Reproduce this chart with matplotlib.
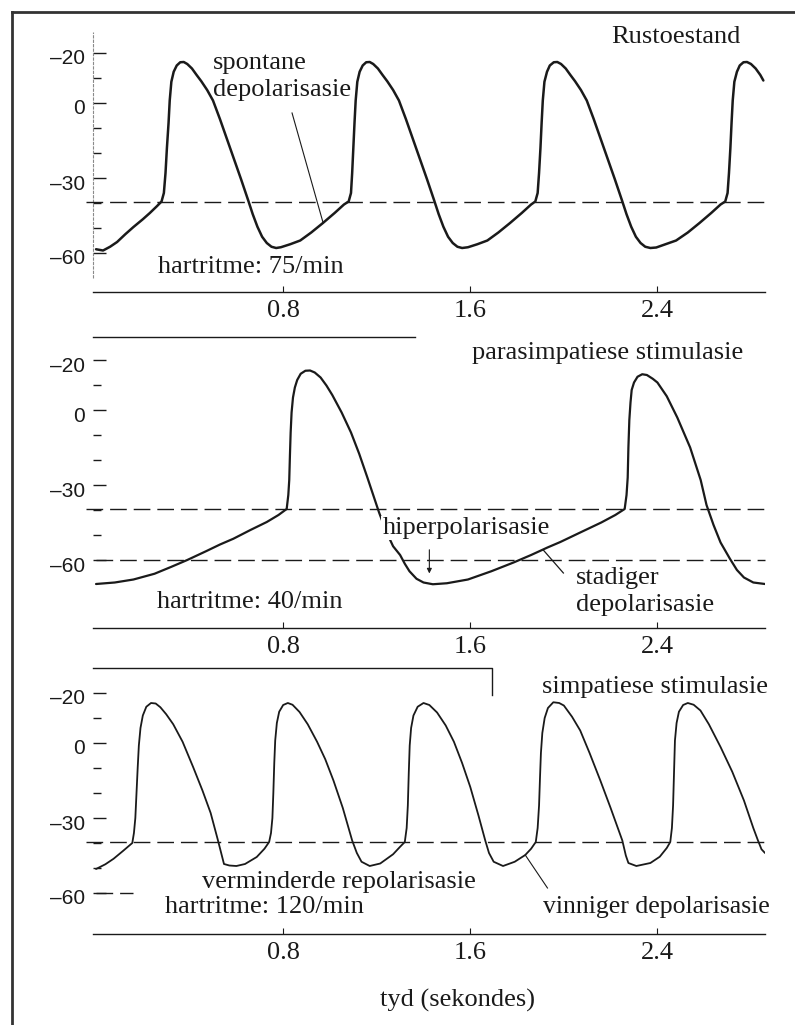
import matplotlib.pyplot as plt
from matplotlib.lines import Line2D
from matplotlib.transforms import ScaledTranslation

# ===== DATA =====
# time in seconds, membrane potential in mV

# Rustoestand, 75/min
t_rest = [0.0, 0.03, 0.06, 0.09, 0.125, 0.16, 0.2, 0.23, 0.26, 0.28,
          0.29, 0.297, 0.303, 0.31, 0.315, 0.322, 0.332, 0.345, 0.36, 0.375, 0.39, 0.41, 0.43, 0.45, 0.475,
          0.5, 0.53, 0.56, 0.59, 0.62, 0.65, 0.67, 0.69, 0.71, 0.73, 0.75, 0.77, 0.79,
          0.83, 0.873, 0.92, 0.97, 1.02, 1.06, 1.08,
          1.09, 1.095, 1.1, 1.105, 1.11, 1.117, 1.127, 1.14, 1.155, 1.17, 1.185, 1.205, 1.225, 1.245, 1.27,
          1.295, 1.325, 1.355, 1.385, 1.415, 1.445, 1.465, 1.485, 1.505, 1.525, 1.545, 1.565, 1.59,
          1.63, 1.673, 1.72, 1.77, 1.82, 1.86, 1.878,
          1.888, 1.894, 1.9, 1.905, 1.91, 1.917, 1.928, 1.94, 1.957, 1.972, 1.988, 2.008, 2.028, 2.048, 2.073,
          2.098, 2.128, 2.158, 2.188, 2.218, 2.248, 2.268, 2.288, 2.308, 2.328, 2.348, 2.37, 2.395,
          2.435, 2.48, 2.53, 2.58, 2.63, 2.67, 2.69,
          2.7, 2.706, 2.712, 2.717, 2.722, 2.729, 2.74, 2.752, 2.768, 2.783, 2.8, 2.82, 2.84, 2.853]
v_rest = [-58.5, -59, -57.5, -55.6, -52.5, -49.6, -46.5, -44, -41.3, -39.4,
          -36, -28, -18, -8, 1, 8.5, 12.5, 15, 16.3, 16.4, 15.6, 13.8, 11.2, 8.7, 5.2,
          1, -6.5, -14.5, -22.5, -30.5, -38.8, -44.5, -49.5, -53.5, -56, -57.5, -58, -57.7,
          -56.5, -55, -51.8, -48, -44, -40.6, -39.4,
          -36, -28, -18, -8, 1, 8.5, 12.5, 15, 16.3, 16.4, 15.6, 13.8, 11.2, 8.7, 5.2,
          1, -6.5, -14.5, -22.5, -30.5, -38.8, -44.5, -49.5, -53.5, -56, -57.5, -58, -57.7,
          -56.5, -55, -51.8, -48, -44, -40.6, -39.4,
          -36, -28, -18, -8, 1, 8.5, 12.5, 15, 16.3, 16.4, 15.6, 13.8, 11.2, 8.7, 5.2,
          1, -6.5, -14.5, -22.5, -30.5, -38.8, -44.5, -49.5, -53.5, -56, -57.5, -58, -57.8,
          -56.5, -55, -51.8, -48, -44, -40.6, -39.4,
          -36, -28, -18, -8, 1, 8.5, 12.5, 15, 16.3, 16.4, 15.6, 13.8, 11.2, 9]

# parasimpatiese stimulasie, 40/min
t_para = [0.0, 0.08, 0.16, 0.25, 0.32, 0.39, 0.47, 0.53, 0.587, 0.66, 0.73, 0.78, 0.815,
          0.822, 0.826, 0.829, 0.832, 0.836, 0.842, 0.85, 0.86, 0.875, 0.895, 0.915, 0.935, 0.96,
          0.985, 1.01, 1.05, 1.09, 1.125, 1.16, 1.185, 1.21, 1.24, 1.27, 1.3, 1.32, 1.34, 1.37,
          1.4, 1.44, 1.5, 1.59, 1.69, 1.785, 1.86, 1.93, 1.985, 2.07, 2.16, 2.22, 2.26,
          2.268, 2.273, 2.276, 2.28, 2.285, 2.29, 2.3, 2.315, 2.335, 2.355, 2.38, 2.4, 2.44,
          2.485, 2.54, 2.585, 2.61, 2.64, 2.67, 2.71, 2.74, 2.77, 2.81, 2.86]
v_para = [-69.6, -69, -67.8, -65.5, -62.8, -60, -56.5, -53.8, -51.5, -48, -44.8, -42, -39.6,
          -34, -28, -18, -9, -1, 5, 9, 12, 14.5, 15.7, 15.8, 15, 13,
          9.8, 6, -1, -9, -17.5, -27, -34, -41, -48.5, -54.5, -58, -61.5, -64.5, -67.5,
          -69, -69.7, -69.3, -67.8, -64.5, -61, -58, -55, -52.8, -49, -45, -42, -39.6,
          -34, -27, -15, -4, 3, 8, 11, 13.3, 14.3, 14, 12.5, 11, 5.5,
          -3, -15, -28, -38, -46, -53, -59.5, -64, -67, -69, -69.6]

# simpatiese stimulasie, 120/min
t_symp = [0.0, 0.04, 0.075, 0.115, 0.155,
          0.162, 0.168, 0.173, 0.178, 0.183, 0.19, 0.2, 0.215, 0.235, 0.255, 0.275, 0.3, 0.33, 0.37,
          0.415, 0.455, 0.49, 0.52, 0.535, 0.547, 0.57, 0.6, 0.637, 0.687, 0.72, 0.74,
          0.748, 0.754, 0.758, 0.762, 0.766, 0.773, 0.783, 0.8, 0.82, 0.84, 0.87, 0.905, 0.945,
          0.98, 1.015, 1.055, 1.095, 1.115, 1.135, 1.17, 1.215, 1.27, 1.3, 1.32,
          1.328, 1.333, 1.337, 1.341, 1.347, 1.357, 1.375, 1.4, 1.425, 1.458, 1.495, 1.53, 1.565,
          1.6, 1.635, 1.664, 1.68, 1.7, 1.74, 1.79, 1.835, 1.86, 1.88,
          1.888, 1.894, 1.898, 1.902, 1.908, 1.918, 1.932, 1.955, 1.98, 2.0, 2.035, 2.07, 2.11,
          2.156, 2.2, 2.25, 2.265, 2.276, 2.31, 2.37, 2.41, 2.44, 2.455,
          2.462, 2.467, 2.471, 2.475, 2.482, 2.492, 2.51, 2.53, 2.555, 2.584, 2.62, 2.67, 2.72,
          2.77, 2.81, 2.83, 2.845, 2.86]
v_symp = [-50.4, -48.5, -46.3, -43.2, -40,
          -36, -30, -20, -10, -1, 6, 11, 14.5, 16, 15.8, 14.3, 11.5, 7.5, 0.5,
          -9.6, -19, -28, -38.5, -44, -48.4, -49, -49.2, -48.4, -45.6, -42.3, -39.6,
          -36, -30, -20, -8, 1, 8, 12.5, 15.2, 16, 15.3, 12.4, 7.5, 0.5,
          -6.5, -15, -26, -39, -44, -47.5, -49.2, -48.2, -44.5, -41.5, -39.6,
          -34, -25, -12, -1, 6, 11, 14.5, 16, 15.2, 12.2, 7, 0.5, -8,
          -17.6, -29, -39, -44, -47.5, -49.2, -47.5, -44.8, -42.3, -39.6,
          -34, -25, -14, -4, 4, 10, 14, 16.3, 16, 15, 10.5, 5, -4,
          -15, -26, -39, -45, -48, -49.2, -48, -45.5, -42, -39.6,
          -34, -25, -12, 1, 8, 12.5, 15.2, 16, 15.3, 13, 7.5, -1.6, -11.5,
          -23, -34, -39, -42.5, -44]

threshold = -39.6
hyperpol_level = -60
para_stim_end = 1.365
symp_stim_end = 1.694

x_ticks = [0.8, 1.6, 2.4]
x_ticklabels = ['0.8', '1.6', '2.4']
y_major = [20, 0, -30, -60]
y_major_labels = ['\u201320', '0', '\u201330', '\u201360']
y_minor = [10, -10, -20, -40, -50]

# ===== FIGURE =====
W, H = 795, 1025
SERIF = 'Liberation Serif'
SANS = 'Liberation Sans'
INK = '#1a1a1a'
fig = plt.figure(figsize=(W / 100, H / 100), dpi=100)


def panel(top, bottom, ylim):
    ax = fig.add_axes([93 / W, 1 - bottom / H, (765 - 93) / W, (bottom - top) / H])
    ax.set_xlim(-0.013, 2.86)
    ax.set_ylim(*ylim)
    for side in ['top', 'right', 'left']:
        ax.spines[side].set_visible(False)
    ax.spines['bottom'].set_linewidth(1.0)
    ax.spines['bottom'].set_color(INK)
    ax.set_xticks(x_ticks)
    ax.set_xticklabels(x_ticklabels, fontfamily=SERIF, fontsize=19, color=INK)
    ax.tick_params(axis='x', direction='in', length=4, width=0.8, pad=6, color=INK)
    ax.set_yticks(y_major)
    ax.set_yticklabels(y_major_labels, fontfamily=SANS, fontsize=15, color=INK)
    ax.set_yticks(y_minor, minor=True)
    ax.tick_params(axis='y', which='major', direction='in', length=9, width=1.0, pad=6, color=INK)
    ax.tick_params(axis='y', which='minor', direction='in', length=6, width=1.0, color=INK)
    off = ScaledTranslation(0, -4 / 100, fig.dpi_scale_trans)
    for lab in ax.get_yticklabels():
        lab.set_transform(lab.get_transform() + off)
    ax.patch.set_alpha(0)
    return ax


dash = dict(color=INK, lw=1.0, dashes=(12, 5), clip_on=False)
txt = dict(fontfamily=SERIF, fontsize=19, color=INK, va='center', ha='left')

# --- top: rest ---
ax1 = panel(32, 292, (-75.6, 28.4))
ax1.plot([-0.013, -0.013], [-70, 28.4], color='#8a8a8a', lw=0.8, ls=(0, (3, 1)), clip_on=False)
ax1.plot([-0.045, 2.86], [threshold, threshold], **dash)
ax1.plot(t_rest, v_rest, color=INK, lw=1.8, solid_capstyle='round', solid_joinstyle='round')
ax1.text(2.755, 26.4, 'Rustoestand', **{**txt, 'ha': 'right'})
ax1.text(0.50, 16, 'spontane', **txt)
ax1.text(0.50, 5.2, 'depolarisasie', **txt)
ax1.plot([0.838, 0.971], [-4, -48], color=INK, lw=0.8)
ax1.text(0.265, -65.6, 'hartritme: 75/min', **txt)

# --- middle: parasympathetic ---
ax2 = panel(337, 628, (-87.2, 29.2))
ax2.plot([-0.013, para_stim_end], [29.2, 29.2], color=INK, lw=1.0, clip_on=False)
ax2.plot([-0.045, 2.86], [threshold, threshold], **dash)
ax2.plot([0.0, 2.86], [hyperpol_level, hyperpol_level], **dash)
ax2.plot(t_para, v_para, color=INK, lw=1.6, solid_capstyle='round', solid_joinstyle='round')
ax2.text(1.608, 22.8, 'parasimpatiese stimulasie', **txt)
ax2.text(1.224, -47.2, 'hiperpolarisasie', zorder=5,
         bbox=dict(facecolor='white', edgecolor='none', pad=1), **txt)
ax2.annotate('', xy=(1.425, -66.5), xytext=(1.425, -54.8),
             arrowprops=dict(arrowstyle='-|>', color=INK, lw=0.8, mutation_scale=7))
ax2.plot([1.912, 1.998], [-56, -65.2], color=INK, lw=0.9)
ax2.text(2.05, -67.2, 'stadiger', **txt)
ax2.text(2.05, -78, 'depolarisasie', **txt)
ax2.text(0.261, -76.8, 'hartritme: 40/min', **txt)

# --- bottom: sympathetic ---
ax3 = panel(668, 934, (-76.4, 30))
ax3.plot([-0.013, symp_stim_end, symp_stim_end], [30, 30, 19.2], color=INK, lw=1.0, clip_on=False)
ax3.plot([-0.045, 2.86], [threshold, threshold], **dash)
ax3.plot([0.0, 0.16], [hyperpol_level, hyperpol_level], **dash)
ax3.plot(t_symp, v_symp, color=INK, lw=1.3, solid_capstyle='round', solid_joinstyle='round')
ax3.text(1.908, 22.4, 'simpatiese stimulasie', **txt)
ax3.text(0.453, -55.6, 'verminderde repolarisasie', **txt)
ax3.text(0.295, -65.6, 'hartritme: 120/min', **txt)
ax3.plot([1.835, 1.93], [-44.8, -58], color=INK, lw=0.8)
ax3.text(1.912, -65.6, 'vinniger depolarisasie', **{**txt, 'fontsize': 18.5})

fig.text(458 / W, 1 - 1000 / H, 'tyd (sekondes)', fontfamily=SERIF, fontsize=19,
         color=INK, ha='center', va='center')

# outer frame (top and left edges only)
fig.add_artist(Line2D([12 / W, 1], [1 - 12 / H, 1 - 12 / H], color='#333333', lw=2.0,
                      transform=fig.transFigure))
fig.add_artist(Line2D([12 / W, 12 / W], [0, 1 - 12 / H], color='#333333', lw=2.0,
                      transform=fig.transFigure))

fig.savefig('out.png', dpi=100)
